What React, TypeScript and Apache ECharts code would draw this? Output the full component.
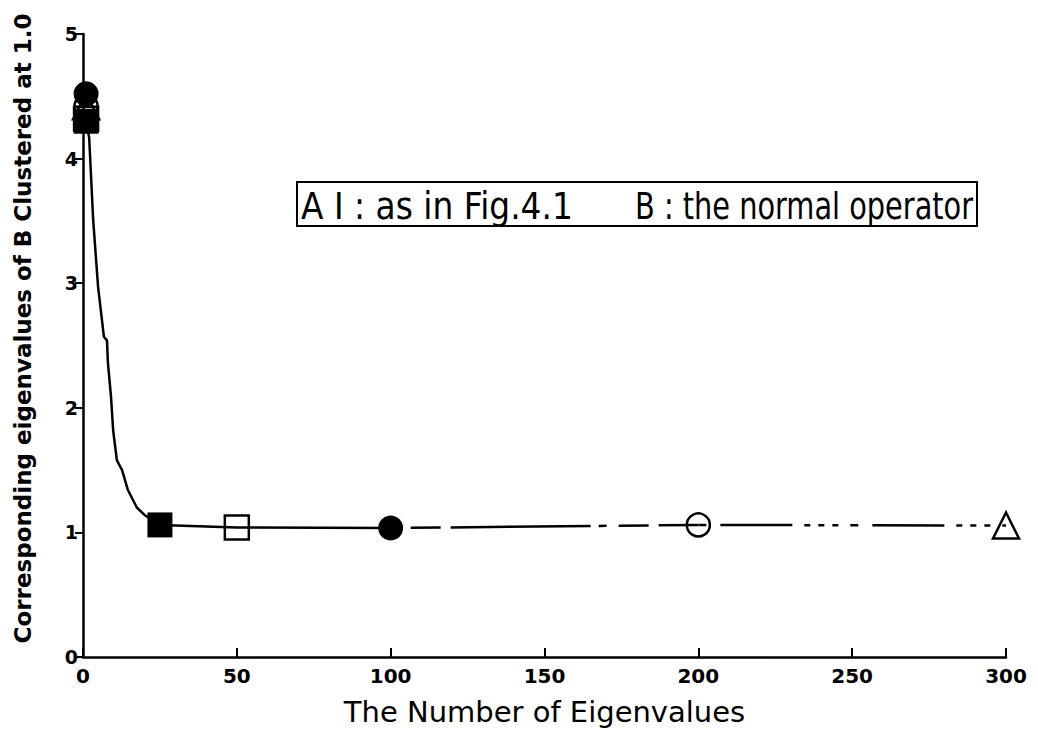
import React, { useEffect, useRef } from "react";
import * as echarts from "echarts";

// Solid curve (decay from the cluster to ~1.0)
const curveX = [1, 2, 3.3, 4.9, 6.8, 7.8, 8.1, 9.1, 9.8, 11, 12.7, 14.6, 17.5, 20, 25, 50, 100];
const curveY = [4.3, 4.17, 3.51, 2.97, 2.57, 2.54, 2.36, 2.09, 1.82, 1.58, 1.5, 1.34, 1.2, 1.14, 1.06, 1.04, 1.035];
// Dashed continuation 100 -> 200
const dashX = [100, 200];
const dashY = [1.035, 1.06];
// Dash-dot continuation 200 -> 300
const dotX = [200, 300];
const dotY = [1.06, 1.055];

// Markers: [x, y] for each run (start cluster and end)
const filledSquare = [[1, 4.3], [25, 1.06]];
const openSquare = [[1, 4.32], [50, 1.04]];
const filledCircle = [[1, 4.52], [100, 1.035]];
const openCircle = [[1, 4.42], [200, 1.06]];
const openTriangle = [[1, 4.42], [300, 1.055]];

const xTicks = [0, 50, 100, 150, 200, 250, 300];
const yTicks = [0, 1, 2, 3, 4, 5];

const legendLeft = "A I : as in Fig.4.1";
const legendRight = "B : the normal operator";

const PLOT_FONT = "DejaVu Sans";

function measure(text: string, font: string): number {
  const c = document.createElement("canvas");
  const ctx = c.getContext("2d");
  if (!ctx) return text.length * 10;
  ctx.font = font;
  return ctx.measureText(text).width;
}

export default function App() {
  const ref = useRef<HTMLDivElement>(null);
  useEffect(() => {
    if (!ref.current) return;
    const chart = echarts.init(ref.current, undefined, { renderer: "svg" });
    const legFontSize = 35;
    const legFont = `${legFontSize}px "${PLOT_FONT}"`;
    const w1 = measure(legendLeft, legFont);
    const w2 = measure(legendRight, legFont);
    const sx1 = 272 / w1;
    const sx2 = 338 / w2;

    const zip = (xs: number[], ys: number[]) => xs.map((x, i) => [x, ys[i]]);
    const markerSeries = (data: number[][], symbol: string, filled: boolean, size: number) => ({
      type: "scatter",
      data,
      symbol,
      symbolSize: size,
      z: 5,
      itemStyle: {
        color: filled ? "#000" : "rgba(0,0,0,0)",
        borderColor: "#000",
        borderWidth: filled ? 0 : 2.5,
        opacity: 1,
      },
    });

    chart.setOption({
      animation: false,
      backgroundColor: "#fff",
      grid: { left: 83, right: 32, top: 34, bottom: 74 },
      xAxis: {
        type: "value",
        min: xTicks[0],
        max: xTicks[xTicks.length - 1],
        interval: 50,
        name: "The Number of Eigenvalues",
        nameLocation: "middle",
        nameGap: 40,
        nameTextStyle: { fontFamily: PLOT_FONT, fontSize: 29, color: "#000" },
        axisLine: { lineStyle: { color: "#000", width: 2.5 } },
        axisTick: { inside: true, length: 9, lineStyle: { color: "#000", width: 2 } },
        axisLabel: { color: "#000", fontFamily: PLOT_FONT, fontWeight: "bold", fontSize: 20, margin: 9 },
        splitLine: { show: false },
      },
      yAxis: {
        type: "value",
        min: yTicks[0],
        max: yTicks[yTicks.length - 1],
        interval: 1,
        name: "Corresponding eigenvalues of B Clustered at 1.0",
        nameLocation: "middle",
        nameGap: 49,
        nameTextStyle: {
          fontFamily: PLOT_FONT,
          fontWeight: "bold",
          fontSize: 23,
          color: "#000",
          padding: [0, 0, 0, 34],
        },
        axisLine: { show: true, lineStyle: { color: "#000", width: 2.5 } },
        axisTick: { show: true, inside: false, length: 8, lineStyle: { color: "#000", width: 2 } },
        axisLabel: { color: "#000", fontFamily: PLOT_FONT, fontWeight: "bold", fontSize: 19, margin: 5 },
        splitLine: { show: false },
      },
      graphic: [
        {
          type: "rect",
          shape: { x: 297, y: 182, width: 680, height: 44 },
          style: { fill: "#fff", stroke: "#000", lineWidth: 2 },
          z: 10,
        },
        {
          type: "text",
          x: 301,
          y: 206,
          scaleX: sx1,
          scaleY: 1.08,
          z: 11,
          style: {
            text: legendLeft,
            font: legFont,
            fill: "#000",
            verticalAlign: "middle",
            align: "left",
          },
        },
        {
          type: "text",
          x: 635,
          y: 206,
          scaleX: sx2,
          scaleY: 1.08,
          z: 11,
          style: {
            text: legendRight,
            font: legFont,
            fill: "#000",
            verticalAlign: "middle",
            align: "left",
          },
        },
      ],
      series: [
        {
          type: "line",
          data: zip(curveX, curveY),
          symbol: "none",
          smooth: false,
          lineStyle: { color: "#000", width: 2.5 },
        },
        {
          type: "line",
          data: zip(dashX, dashY),
          symbol: "none",
          lineStyle: { color: "#000", width: 2.5, type: [8, 12, 30, 10, 140, 8] },
        },
        {
          type: "line",
          data: zip(dotX, dotY),
          symbol: "none",
          lineStyle: { color: "#000", width: 2.5, type: [8, 14, 72, 12, 6, 8, 6, 8, 6, 12] },
        },
        markerSeries(openSquare, "rect", false, 24),
        markerSeries(openCircle, "circle", false, 23),
        markerSeries(openTriangle, "triangle", false, 26),
        markerSeries(filledSquare, "rect", true, 25),
        markerSeries(filledCircle, "circle", true, 25),
      ],
    });
    return () => chart.dispose();
  }, []);
  return (
    <div
      ref={ref}
      style={{ position: "absolute", left: 0, top: 0, width: 1038, height: 731, background: "#fff" }}
    />
  );
}
